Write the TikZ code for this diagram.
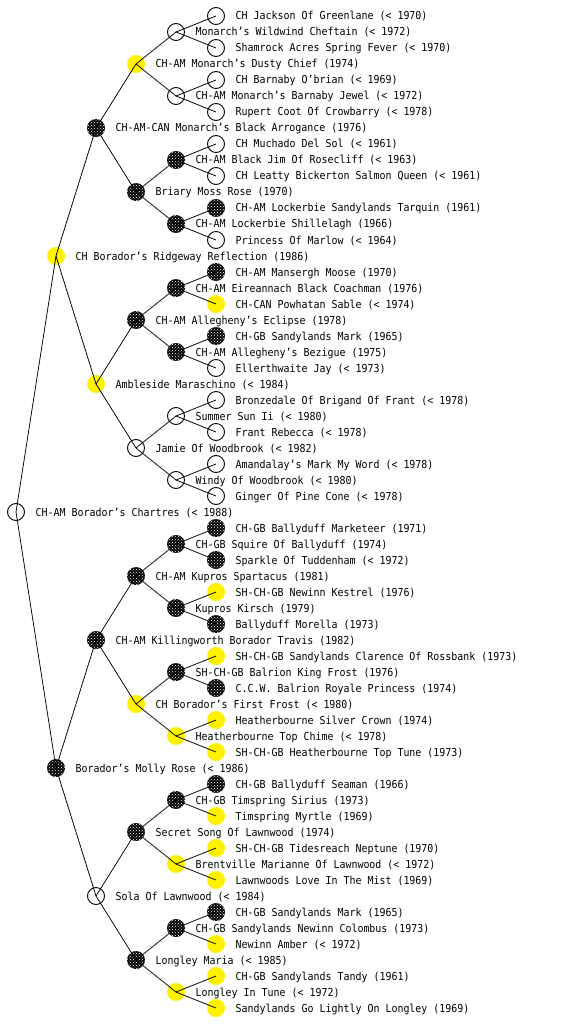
\documentclass[tikz,border=0pt]{standalone}
\usepackage{fontspec}
\newfontfamily\pix[FakeStretch=0.905]{DejaVu Sans Mono}
\usetikzlibrary{patterns}
\tikzset{
  pedw/.style={circle,draw=black,line width=0.9pt,fill=white,minimum size=17pt,inner sep=0pt},
  pedy/.style={circle,fill=yellow,minimum size=18pt,inner sep=0pt},
  pedb/.style={circle,fill=black,minimum size=18pt,inner sep=0pt,
    postaction={pattern=crosshatch dots,pattern color=white}},
  pedtext/.style={anchor=base west,inner sep=0pt,font=\pix\fontsize{11}{11}\selectfont},
  link/.style={line width=0.75pt,black}
}
\newcommand{\ped}[5]{%
  \node[ped#4] (#1) at ({16+40*#2},#3) {};
  \node[pedtext] (#1t) at ({16+40*#2+19.5},{#3+4}) {#5};
}
\begin{document}
\begin{tikzpicture}[x=1pt,y=-1pt]
\useasboundingbox (0,0) rectangle (560,1024);
% level 0
\ped{r}{0}{512}{w}{CH-AM Borador’s Chartres (< 1988)}
% level 1
\ped{r0}{1}{256}{y}{CH Borador’s Ridgeway Reflection (1986)}
\ped{r1}{1}{768}{b}{Borador’s Molly Rose (< 1986)}
% level 2
\ped{r00}{2}{128}{b}{CH-AM-CAN Monarch’s Black Arrogance (1976)}
\ped{r01}{2}{384}{y}{Ambleside Maraschino (< 1984)}
\ped{r10}{2}{640}{b}{CH-AM Killingworth Borador Travis (1982)}
\ped{r11}{2}{896}{w}{Sola Of Lawnwood (< 1984)}
% level 3
\ped{r000}{3}{64}{y}{CH-AM Monarch’s Dusty Chief (1974)}
\ped{r001}{3}{192}{b}{Briary Moss Rose (1970)}
\ped{r010}{3}{320}{b}{CH-AM Allegheny’s Eclipse (1978)}
\ped{r011}{3}{448}{w}{Jamie Of Woodbrook (< 1982)}
\ped{r100}{3}{576}{b}{CH-AM Kupros Spartacus (1981)}
\ped{r101}{3}{704}{y}{CH Borador’s First Frost (< 1980)}
\ped{r110}{3}{832}{b}{Secret Song Of Lawnwood (1974)}
\ped{r111}{3}{960}{b}{Longley Maria (< 1985)}
% level 4
\ped{r0000}{4}{32}{w}{Monarch’s Wildwind Cheftain (< 1972)}
\ped{r0001}{4}{96}{w}{CH-AM Monarch’s Barnaby Jewel (< 1972)}
\ped{r0010}{4}{160}{b}{CH-AM Black Jim Of Rosecliff (< 1963)}
\ped{r0011}{4}{224}{b}{CH-AM Lockerbie Shillelagh (1966)}
\ped{r0100}{4}{288}{b}{CH-AM Eireannach Black Coachman (1976)}
\ped{r0101}{4}{352}{b}{CH-AM Allegheny’s Bezigue (1975)}
\ped{r0110}{4}{416}{w}{Summer Sun Ii (< 1980)}
\ped{r0111}{4}{480}{w}{Windy Of Woodbrook (< 1980)}
\ped{r1000}{4}{544}{b}{CH-GB Squire Of Ballyduff (1974)}
\ped{r1001}{4}{608}{b}{Kupros Kirsch (1979)}
\ped{r1010}{4}{672}{b}{SH-CH-GB Balrion King Frost (1976)}
\ped{r1011}{4}{736}{y}{Heatherbourne Top Chime (< 1978)}
\ped{r1100}{4}{800}{b}{CH-GB Timspring Sirius (1973)}
\ped{r1101}{4}{864}{y}{Brentville Marianne Of Lawnwood (< 1972)}
\ped{r1110}{4}{928}{b}{CH-GB Sandylands Newinn Colombus (1973)}
\ped{r1111}{4}{992}{y}{Longley In Tune (< 1972)}
% level 5
\ped{r00000}{5}{16}{w}{CH Jackson Of Greenlane (< 1970)}
\ped{r00001}{5}{48}{w}{Shamrock Acres Spring Fever (< 1970)}
\ped{r00010}{5}{80}{w}{CH Barnaby O’brian (< 1969)}
\ped{r00011}{5}{112}{w}{Rupert Coot Of Crowbarry (< 1978)}
\ped{r00100}{5}{144}{w}{CH Muchado Del Sol (< 1961)}
\ped{r00101}{5}{176}{w}{CH Leatty Bickerton Salmon Queen (< 1961)}
\ped{r00110}{5}{208}{b}{CH-AM Lockerbie Sandylands Tarquin (1961)}
\ped{r00111}{5}{240}{w}{Princess Of Marlow (< 1964)}
\ped{r01000}{5}{272}{b}{CH-AM Mansergh Moose (1970)}
\ped{r01001}{5}{304}{y}{CH-CAN Powhatan Sable (< 1974)}
\ped{r01010}{5}{336}{b}{CH-GB Sandylands Mark (1965)}
\ped{r01011}{5}{368}{w}{Ellerthwaite Jay (< 1973)}
\ped{r01100}{5}{400}{w}{Bronzedale Of Brigand Of Frant (< 1978)}
\ped{r01101}{5}{432}{w}{Frant Rebecca (< 1978)}
\ped{r01110}{5}{464}{w}{Amandalay’s Mark My Word (< 1978)}
\ped{r01111}{5}{496}{w}{Ginger Of Pine Cone (< 1978)}
\ped{r10000}{5}{528}{b}{CH-GB Ballyduff Marketeer (1971)}
\ped{r10001}{5}{560}{b}{Sparkle Of Tuddenham (< 1972)}
\ped{r10010}{5}{592}{y}{SH-CH-GB Newinn Kestrel (1976)}
\ped{r10011}{5}{624}{b}{Ballyduff Morella (1973)}
\ped{r10100}{5}{656}{y}{SH-CH-GB Sandylands Clarence Of Rossbank (1973)}
\ped{r10101}{5}{688}{b}{C.C.W. Balrion Royale Princess (1974)}
\ped{r10110}{5}{720}{y}{Heatherbourne Silver Crown (1974)}
\ped{r10111}{5}{752}{y}{SH-CH-GB Heatherbourne Top Tune (1973)}
\ped{r11000}{5}{784}{b}{CH-GB Ballyduff Seaman (1966)}
\ped{r11001}{5}{816}{y}{Timspring Myrtle (1969)}
\ped{r11010}{5}{848}{y}{SH-CH-GB Tidesreach Neptune (1970)}
\ped{r11011}{5}{880}{y}{Lawnwoods Love In The Mist (1969)}
\ped{r11100}{5}{912}{b}{CH-GB Sandylands Mark (1965)}
\ped{r11101}{5}{944}{y}{Newinn Amber (< 1972)}
\ped{r11110}{5}{976}{y}{CH-GB Sandylands Tandy (1961)}
\ped{r11111}{5}{1008}{y}{Sandylands Go Lightly On Longley (1969)}
% connectors
\foreach \n in {r,r0,r1,r00,r01,r10,r11,r000,r001,r010,r011,r100,r101,r110,r111,
  r0000,r0001,r0010,r0011,r0100,r0101,r0110,r0111,r1000,r1001,r1010,r1011,r1100,r1101,r1110,r1111}{
  \draw[link] (\n.center) -- (\n0.center);
  \draw[link] (\n.center) -- (\n1.center);
}
\end{tikzpicture}
\end{document}
